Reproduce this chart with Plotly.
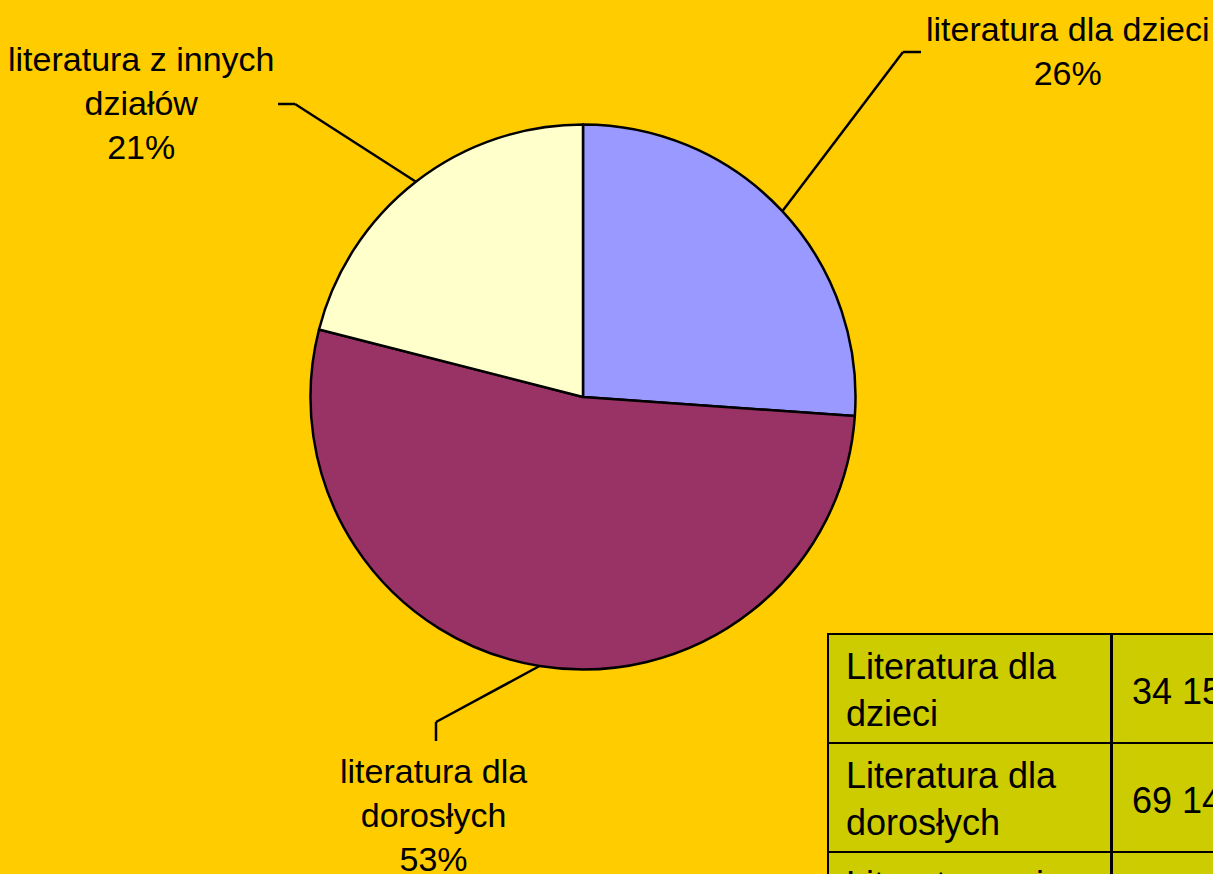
import math
import plotly.graph_objects as go

# dane
kategorie = ["literatura dla dzieci", "literatura dla dorosłych", "literatura z innych działów"]
etykiety = ["literatura dla dzieci", "literatura dla<br>dorosłych", "literatura z innych<br>działów"]
wartosci = [34152, 69148, 27480]
tabela_nazwy = ["Literatura dla<br>dzieci", "Literatura dla<br>dorosłych", "Literatura z innych<br>działów"]
tabela_wartosci = ["34 152", "69 148", "27 480"]
kolory = ["#9999FF", "#993366", "#FFFFCC"]

# figura jest szersza/wyzsza niz okno - tabela ma byc przycieta jak w oryginale
W, H = 1330, 980
CX, CY, R = 583, 397, 272.5
TAB_X0, TAB_X1, TAB_X2, TAB_Y0 = 828, 1112, 1312, 634
FONT = "Liberation Sans, Arial"
PUSTY_NAGLOWEK = dict(values=[""], height=0, line=dict(width=0), fill=dict(color="rgba(0,0,0,0)"))


def px(x, y):
    return x / W, 1 - y / H


fig = go.Figure()

fig.add_trace(
    go.Pie(
        labels=kategorie,
        values=wartosci,
        sort=False,
        direction="clockwise",
        rotation=0,
        marker=dict(colors=kolory, line=dict(color="black", width=2.5)),
        textinfo="none",
        hoverinfo="label+value+percent",
        domain=dict(x=[(CX - R) / W, (CX + R) / W], y=[1 - (CY + R) / H, 1 - (CY - R) / H]),
        showlegend=False,
    )
)

# tabela: siatka
fig.add_trace(
    go.Table(
        columnwidth=[TAB_X1 - TAB_X0, TAB_X2 - TAB_X1],
        header=dict(values=["", ""], height=0, line=dict(width=0), fill=dict(color="rgba(0,0,0,0)")),
        cells=dict(
            values=[[""] * len(tabela_nazwy), [""] * len(tabela_nazwy)],
            fill=dict(color="#CCCC00"),
            line=dict(color="black", width=2.5),
            height=109,
        ),
        domain=dict(x=[TAB_X0 / W, TAB_X2 / W], y=[0, 1 - TAB_Y0 / H]),
    )
)

# nazwy (lekko w dol) i wartosci (wysrodkowane w pionie)
wciecie = "\u00a0"
nazwy = [wciecie + n.replace("<br>", "<br>" + wciecie) for n in tabela_nazwy]
for kol, x0, dy in [(nazwy, TAB_X0, 4), (tabela_wartosci, TAB_X1 + 12, 35)]:
    fig.add_trace(
        go.Table(
            header=PUSTY_NAGLOWEK,
            cells=dict(
                values=[kol],
                fill=dict(color="rgba(0,0,0,0)"),
                line=dict(width=0, color="rgba(0,0,0,0)"),
                font=dict(family=FONT, size=36, color="black"),
                align="left",
                height=109,
            ),
            domain=dict(x=[x0 / W, (TAB_X1 if x0 == TAB_X0 else TAB_X2) / W], y=[0, 1 - (TAB_Y0 + dy) / H]),
        )
    )

# etykiety z liniami odniesienia (polozenie etykiet i zalaman)
etykiety_pos = [(1067, 51), (433, 815), (141, 103)]
zalamania = [[(903, 52), (921, 52)], [(436, 722), (436, 741)], [(295, 104), (278, 104)]]

suma = sum(wartosci)
skum = 0
for i, v in enumerate(wartosci):
    kat = 2 * math.pi * (skum + v / 2) / suma
    skum += v
    x0 = CX + R * math.sin(kat)
    y0 = CY - R * math.cos(kat)
    pts = [(x0, y0)] + zalamania[i]
    for (xa, ya), (xb, yb) in zip(pts[:-1], pts[1:]):
        pa, pb = px(xa, ya), px(xb, yb)
        fig.add_shape(
            type="line", xref="paper", yref="paper",
            x0=pa[0], y0=pa[1], x1=pb[0], y1=pb[1],
            line=dict(color="black", width=2.5),
        )
    proc = round(100 * v / suma)
    lx, ly = px(*etykiety_pos[i])
    fig.add_annotation(
        x=lx, y=ly, xref="paper", yref="paper",
        text=f"{etykiety[i]}<br>{proc}%",
        showarrow=False, align="center",
        xanchor="center", yanchor="middle",
        font=dict(family=FONT, size=34, color="black"),
    )

fig.update_layout(
    width=W,
    height=H,
    margin=dict(l=0, r=0, t=0, b=0),
    paper_bgcolor="#FFCC00",
    plot_bgcolor="#FFCC00",
)

fig.write_html(
    "out.html",
    post_script="document.body.style.margin='0';document.body.style.overflow='hidden';",
)
